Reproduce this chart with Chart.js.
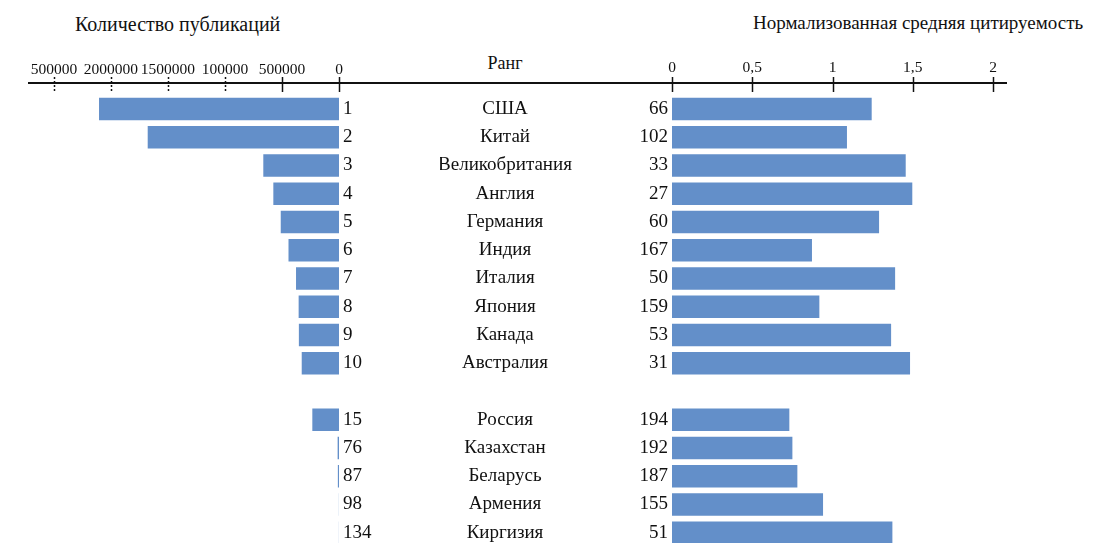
<!DOCTYPE html>
<html lang="ru">
<head>
<meta charset="utf-8">
<title>Публикации и цитируемость</title>
<script src="https://cdn.jsdelivr.net/npm/chart.js@4.4.1/dist/chart.umd.min.js"></script>
<style>
  html, body { margin: 0; padding: 0; background: #fff; }
  body { width: 1097px; height: 543px; overflow: hidden; position: relative; font-family: 'Liberation Serif', 'DejaVu Serif', 'Times New Roman', serif; color: #111; }
  canvas { position: absolute; top: 0; }
  #leftChart { left: 0; }
  #rightChart { left: 440px; }
  .head { position: absolute; line-height: 20px; white-space: nowrap; }
</style>
</head>
<body>
<div class="head" style="left:75px; top:14px; font-size:20px;">Количество публикаций</div>
<div class="head" style="left:753px; top:13px; font-size:19px;">Нормализованная средняя цитируемость</div>
<div class="head" style="left:505px; top:53px; font-size:18px; transform:translateX(-50%);">Ранг</div>
<canvas id="leftChart" width="440" height="575"></canvas>
<canvas id="rightChart" width="657" height="575"></canvas>
<script>
const countries = ['США', 'Китай', 'Великобритания', 'Англия', 'Германия', 'Индия', 'Италия', 'Япония', 'Канада', 'Австралия', '', 'Россия', 'Казахстан', 'Беларусь', 'Армения', 'Киргизия'];
const ranks = ['1', '2', '3', '4', '5', '6', '7', '8', '9', '10', '', '15', '76', '87', '98', '134'];
const publications = [2105000, 1678000, 664000, 576000, 511000, 443000, 377000, 354000, 352000, 327000, null, 234000, 12000, 10000, 1000, 800];
const citeRanks = ['66', '102', '33', '27', '60', '167', '50', '159', '53', '31', '', '194', '192', '187', '155', '51'];
const citation = [1.244, 1.09, 1.456, 1.497, 1.29, 0.872, 1.39, 0.918, 1.365, 1.483, null, 0.731, 0.75, 0.781, 0.941, 1.373];
const pubTicks = [0, 500000, 1000000, 1500000, 2000000, 2500000];
const pubTickLabels = ['0', '500000', '100000', '1500000', '2000000', '500000'];
const citeTicks = [0, 0.5, 1, 1.5, 2];
const citeTickLabels = ['0', '0,5', '1', '1,5', '2'];

const FAMILY = "'Liberation Serif', 'DejaVu Serif', 'Times New Roman', serif";
const BAR = 'rgb(99, 143, 201)';
const INK = '#111';

// rows are drawn on a linear index axis so the top axis line can sit above the first row
const rowMin = -0.92, rowMax = 15.95;

const toPoints = arr => arr.map((v, i) => ({ x: v, y: i })).filter(p => p.x !== null);

function rowAxis(position, width, labels) {
    return {
        type: 'linear', position: position, reverse: true, min: rowMin, max: rowMax, offset: false,
        grid: { display: false, drawTicks: false, offset: false },
        border: { display: false },
        afterBuildTicks: s => { s.ticks = labels.map((l, i) => ({ value: i })); },
        afterFit: s => { s.width = width; },
        ticks: { padding: 4, autoSkip: false, color: INK, font: { family: FAMILY, size: 19 }, callback: (v, i) => labels[i] }
    };
}

function valueAxis(opts, tickVals, tickLabels, pad) {
    return Object.assign({
        type: 'linear', position: 'top',
        grid: { display: false, drawTicks: false },
        border: { display: false },
        afterBuildTicks: s => { s.ticks = tickVals.map(v => ({ value: v })); },
        afterFit: s => { s.height = 83; },
        ticks: { padding: pad, autoSkip: false, maxRotation: 0, color: INK, font: { family: FAMILY, size: 15.5 }, callback: (v, i) => tickLabels[i] }
    }, opts);
}

// axis line across the canvas plus tick marks that cross it
function axisDecor(lineFrom, lineTo, dashedFrom) {
    return {
        id: 'axisDecor',
        afterDraw(chart) {
            const ctx = chart.ctx;
            const y0 = chart.chartArea.top;
            const xs = chart.scales.x;
            ctx.save();
            ctx.strokeStyle = INK;
            ctx.lineWidth = 2;
            ctx.beginPath();
            ctx.moveTo(lineFrom, y0);
            ctx.lineTo(lineTo, y0);
            ctx.stroke();
            ctx.lineWidth = 1.5;
            xs.ticks.forEach(t => {
                const px = Math.round(xs.getPixelForValue(t.value)) + 0.5;
                ctx.setLineDash(t.value >= dashedFrom ? [2, 2] : []);
                ctx.beginPath();
                ctx.moveTo(px, y0 - 6);
                ctx.lineTo(px, y0 + 9);
                ctx.stroke();
            });
            ctx.restore();
        }
    };
}

const countryLabels = {
    id: 'countryLabels',
    afterDraw(chart) {
        const ctx = chart.ctx;
        const ys = chart.scales.y;
        ctx.save();
        ctx.fillStyle = INK;
        ctx.font = '19px ' + FAMILY;
        ctx.textAlign = 'center';
        ctx.textBaseline = 'middle';
        countries.forEach((c, i) => ctx.fillText(c, 65, ys.getPixelForValue(i)));
        ctx.restore();
    }
};

const common = {
    indexAxis: 'y',
    responsive: false,
    animation: false,
    plugins: { legend: { display: false }, tooltip: { enabled: false } }
};

new Chart(document.getElementById('leftChart'), {
    type: 'bar',
    data: { datasets: [{ data: toPoints(publications), backgroundColor: BAR, borderWidth: 0, barPercentage: 0.8, categoryPercentage: 1 }] },
    options: Object.assign({}, common, {
        layout: { padding: { left: 28, right: 0, top: 0, bottom: 0 } },
        scales: {
            x: valueAxis({ reverse: true, min: 0, max: 2728000 }, pubTicks, pubTickLabels, 4),
            y: rowAxis('right', 101, ranks)
        }
    }),
    plugins: [axisDecor(28, 440, 1000000)]
});

new Chart(document.getElementById('rightChart'), {
    type: 'bar',
    data: { datasets: [{ data: toPoints(citation), backgroundColor: BAR, borderWidth: 0, barPercentage: 0.8, categoryPercentage: 1 }] },
    options: Object.assign({}, common, {
        layout: { padding: { left: 0, right: 90, top: 0, bottom: 0 } },
        scales: {
            x: valueAxis({ min: 0, max: 2.087 }, citeTicks, citeTickLabels, 6),
            y: rowAxis('left', 232, citeRanks)
        }
    }),
    plugins: [axisDecor(0, 567, 99), countryLabels]
});
</script>
</body>
</html>
